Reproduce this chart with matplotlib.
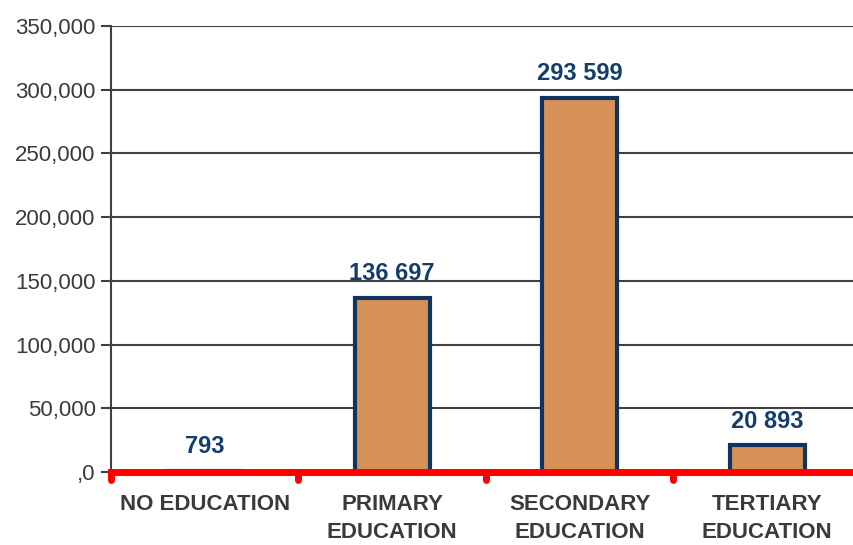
import matplotlib.pyplot as plt
import numpy as np

plt.rcParams['font.family'] = ['Liberation Sans', 'DejaVu Sans']

categories = ['NO EDUCATION', 'PRIMARY\nEDUCATION', 'SECONDARY\nEDUCATION', 'TERTIARY\nEDUCATION']
values = [793, 136697, 293599, 20893]
value_labels = ['793', '136 697', '293 599', '20 893']
yticks = [0, 50000, 100000, 150000, 200000, 250000, 300000, 350000]
ytick_labels = [',0', '50,000', '100,000', '150,000', '200,000', '250,000', '300,000', '350,000']

fig = plt.figure(figsize=(8.54, 5.45), dpi=100)
ax = fig.add_axes([111/854, (545-472)/545, 750/854, 446/545])

x = np.arange(len(categories))
ax.bar(x, values, width=0.4, color='#D69256', edgecolor='#0F3460', linewidth=3, zorder=3)

for xi, v, lab in zip(x, values, value_labels):
    ax.annotate(lab, (xi, v), xytext=(0, 9), textcoords='offset points',
                ha='center', va='bottom', fontsize=17, fontweight='bold', color='#143D6B')

ax.set_xlim(-0.5, 3.5)
ax.set_ylim(0, 350000)
ax.set_yticks(yticks)
ax.set_yticklabels(ytick_labels, fontsize=16, color='#3a3a3a')
ax.set_xticks(x)
ax.set_xticklabels(categories, fontsize=16, fontweight='bold', color='#3a3a3a', linespacing=1.4)
ax.tick_params(axis='x', length=0, pad=16)
ax.tick_params(axis='y', length=7, width=1.5, color='#404040', pad=4)

ax.grid(axis='y', color='#404040', linewidth=1.5, zorder=0)
for s in ['top', 'right', 'bottom']:
    ax.spines[s].set_visible(False)
ax.spines['left'].set_color('#404040')
ax.spines['left'].set_linewidth(1.5)

# red baseline with small down ticks between categories
ax.axhline(0, color='#FF0000', linewidth=5, zorder=4, clip_on=False)
for b in [-0.5, 0.5, 1.5, 2.5]:
    ax.plot([b, b], [0, -6000], color='#FF0000', linewidth=5, solid_capstyle='round',
            zorder=4, clip_on=False)

plt.savefig('out.png', dpi=100)
plt.close()
